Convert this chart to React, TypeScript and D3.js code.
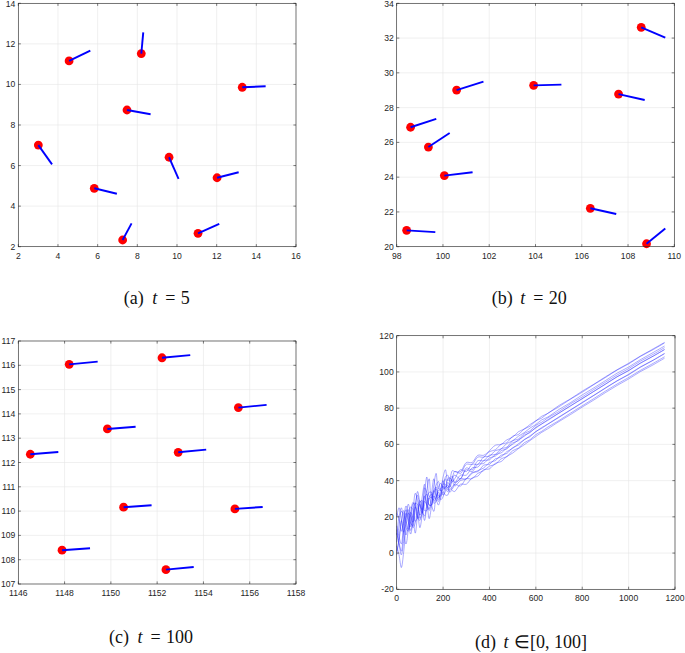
import React from "react";
import * as d3 from "d3";

// ---------- data ----------
const ticksAX = [2, 4, 6, 8, 10, 12, 14, 16];
const ticksAY = [2, 4, 6, 8, 10, 12, 14];
const ticksBX = [98, 100, 102, 104, 106, 108, 110];
const ticksBY = [20, 22, 24, 26, 28, 30, 32, 34];
const ticksCX = [1146, 1148, 1150, 1152, 1154, 1156, 1158];
const ticksCY = [107, 108, 109, 110, 111, 112, 113, 114, 115, 116, 117];
const ticksDX = [0, 200, 400, 600, 800, 1000, 1200];
const ticksDY = [-20, 0, 20, 40, 60, 80, 100, 120];

// t = 5
const posT5X = [4.56, 8.2, 13.29, 7.48, 3.01, 9.6, 12.02, 5.83, 7.26, 11.06];
const posT5Y = [11.16, 11.52, 9.86, 8.74, 7.01, 6.41, 5.4, 4.88, 2.33, 2.66];
const headT5X = [5.63, 8.3, 14.47, 8.67, 3.7, 10.08, 13.11, 6.97, 7.71, 12.13];
const headT5Y = [11.67, 12.57, 9.91, 8.53, 6.06, 5.34, 5.67, 4.61, 3.15, 3.13];

// t = 20
const posT20X = [108.57, 100.59, 103.92, 107.59, 98.6, 99.37, 100.06, 106.37, 98.43, 108.8];
const posT20Y = [32.62, 29.01, 29.28, 28.78, 26.87, 25.73, 24.09, 22.21, 20.94, 20.17];
const headT20X = [109.61, 101.75, 105.12, 108.72, 99.71, 100.29, 101.28, 107.49, 99.67, 109.61];
const headT20Y = [32.03, 29.49, 29.32, 28.44, 27.35, 26.54, 24.28, 21.88, 20.84, 21.05];

// t = 100
const posT100X = [1148.2, 1152.21, 1155.51, 1149.85, 1146.52, 1152.91, 1150.55, 1155.36, 1147.89, 1152.38];
const posT100Y = [116.04, 116.31, 114.26, 113.38, 112.34, 112.42, 110.16, 110.09, 108.39, 107.59];
const headT100X = [1149.43, 1153.43, 1156.73, 1151.07, 1147.73, 1154.12, 1151.76, 1156.56, 1149.1, 1153.58];
const headT100Y = [116.15, 116.42, 114.37, 113.47, 112.43, 112.53, 110.24, 110.17, 108.47, 107.7];

// trajectories t in [0,100]
const trajX = [0, 10, 20, 30, 40, 50, 60, 70, 80, 90, 100, 110, 120, 130, 140, 150, 160, 170, 180, 190, 200, 210, 220, 230, 240, 250, 275, 300, 325, 350, 375, 400, 425, 450, 475, 500, 525, 550, 575, 600, 625, 650, 700, 750, 800, 850, 900, 950, 1000, 1050, 1100, 1155];
const trajA = [20, 25, 19, 11.5, 20, 27, 21.5, 17, 26.5, 32, 26, 24, 33.5, 42, 31.5, 30.5, 37.5, 44, 35.5, 35.5, 42, 46, 40, 41.5, 45.5, 45, 45, 50, 50, 54, 54, 56.5, 59.5, 60, 62.5, 64, 67, 68.5, 71, 73, 75.5, 77, 81.5, 85.2, 89.4, 93.2, 97.3, 101.2, 104.8, 108.7, 112.3, 116.3];
const trajB = [11, 5, -1, 6.5, 19, 24, 16.5, 15, 24.5, 34, 28, 22, 26.5, 34.5, 41, 30.5, 29.5, 37.5, 39.5, 34.5, 35, 42, 43, 39.5, 41.5, 45, 44, 49, 49, 53, 53, 56, 57, 60, 61, 64.5, 65.5, 68.5, 70, 73, 74.5, 77, 80.8, 85, 88.8, 93, 96.9, 101, 104.4, 108.5, 111.9, 116];
const trajC = [4, -1, -8, 0.5, 14, 22, 20.5, 14, 16.5, 25, 29, 25, 18, 26.5, 33.5, 33.5, 28.5, 30.5, 36.5, 38.5, 36, 36, 41, 41.5, 39.5, 41, 46, 45, 49, 49, 53, 53.5, 56.5, 57.5, 60.5, 62, 64.5, 66.5, 69, 71, 73.5, 75, 79.3, 83.1, 87.3, 91.2, 95.2, 99.3, 102.7, 106.7, 110.3, 114.3];
const trajD = [22, 19, 12, 18.5, 26, 22, 14.5, 22, 33, 29, 21, 23, 36, 33.5, 26.5, 26.5, 34.5, 36.5, 31.5, 31.5, 38, 41, 37, 36.5, 41.5, 43, 41, 47, 46, 51, 51, 54, 54.5, 57.5, 58.5, 62, 63, 66, 67.5, 70.5, 72.2, 74.5, 78.2, 82.4, 86.2, 90.3, 94.3, 98.3, 101.8, 105.9, 109.3, 113.4];
const trajE = [6, 15, 23, 21.5, 14, 12, 20.5, 28, 25.5, 19, 22, 31, 38, 26.5, 24.5, 32.5, 41, 32.5, 29.5, 35.5, 40, 36, 35, 40.5, 42.5, 39, 41, 46, 45, 49, 49.5, 52.5, 53.5, 56.5, 57.5, 60.8, 62, 65.1, 66.5, 69.5, 71.2, 73.5, 77.3, 81.4, 85.2, 89.3, 93.3, 97.3, 100.8, 104.9, 108.3, 112.4];
const trajF = [15, 9, 5, 16.5, 24, 19, 12.5, 18, 27.5, 27, 19, 22, 30.5, 32.5, 26.5, 26.5, 33.5, 35.5, 30.5, 32.5, 38, 38, 36, 38.5, 40.5, 39, 43, 43, 47, 47.5, 51, 51.5, 54.3, 55.3, 58.1, 60, 62.5, 64.5, 66.9, 69, 71.3, 73.1, 77.3, 81.2, 85.3, 89.2, 93.2, 97.3, 100.7, 104.7, 108.3, 112.3];
const trajG = [1, 7, 17, 23.5, 18, 13, 17.5, 27, 27.5, 20, 18, 26, 31.5, 27.5, 23.5, 28.5, 34.5, 31.5, 28.5, 32.5, 37, 35, 34, 37.5, 39.5, 37, 40, 41, 44.5, 45, 48.5, 49, 52, 53, 56, 57.8, 60.4, 62.5, 64.8, 67, 69.3, 71.1, 75.2, 79.1, 83.2, 87.1, 91.2, 95.1, 98.7, 102.7, 106.1, 110.2];
const trajH = [10, 20, 25, 16.5, 10, 16, 25.5, 24, 17.5, 20, 28, 29, 23.5, 23.5, 30.5, 32.5, 27.5, 28.5, 34.5, 34.5, 32, 34, 39, 37.5, 35.5, 38, 41, 41, 44, 45.5, 47, 50, 51, 54, 55, 58.2, 59.6, 62.7, 64.2, 67.1, 68.8, 71, 74.9, 79, 82.9, 87, 91, 95, 98.4, 102.5, 106, 110.1];
const trajI = [-1, 8, 18, 10.5, 5, 13, 22.5, 19, 11, 21, 27, 23, 20.5, 26.5, 30.5, 26.5, 23, 31.5, 33.5, 29.5, 31, 37, 36, 33.5, 36.5, 38, 37, 41, 41, 44, 45.5, 48, 49, 52, 53.3, 56.5, 58, 60.9, 62.6, 65.4, 67.2, 69.4, 73.2, 77.3, 81.3, 85.3, 89.4, 93.3, 96.9, 100.8, 104.3, 108.4];
const trajJ = [13, 6, 1, 12.5, 22, 17, 10.5, 17, 25.5, 22, 14, 21, 28.5, 26.5, 19, 25.5, 31.5, 29.5, 26.5, 30.5, 34, 32, 32, 35.5, 34.5, 34, 38, 38, 41.5, 42.5, 46, 46.5, 49.5, 50.5, 53.3, 55.2, 57.7, 59.8, 62.1, 64.4, 66.6, 68.5, 72.6, 76.5, 80.6, 84.5, 88.6, 92.5, 96.1, 100.1, 103.5, 107.6];
const trajectories = [trajA, trajB, trajC, trajD, trajE, trajF, trajG, trajH, trajI, trajJ];

// ---------- drawing ----------
const AXIS = "#262626";
const GRID = "#e6e6e6";
const TICKFONT = "'Liberation Sans', Arial, Helvetica, sans-serif";
const CAPFONT = "'Liberation Serif', 'Times New Roman', serif";

type Box = { l: number; r: number; t: number; b: number };

function Axes({ box, xd, yd, xt, yt, children }: any) {
  const x = d3.scaleLinear().domain(xd).range([box.l, box.r]);
  const y = d3.scaleLinear().domain(yd).range([box.b, box.t]);
  const tl = 2.6;
  return (
    <g>
      <rect x={box.l} y={box.t} width={box.r - box.l} height={box.b - box.t} fill="#fff" />
      {xt.map((v: number) => (
        <line key={"gx" + v} x1={x(v)} x2={x(v)} y1={box.t} y2={box.b} stroke={GRID} strokeWidth={0.6} />
      ))}
      {yt.map((v: number) => (
        <line key={"gy" + v} x1={box.l} x2={box.r} y1={y(v)} y2={y(v)} stroke={GRID} strokeWidth={0.6} />
      ))}
      {children(x, y)}
      <rect x={box.l} y={box.t} width={box.r - box.l} height={box.b - box.t} fill="none" stroke={AXIS} strokeWidth={0.6} />
      {xt.map((v: number) => (
        <g key={"tx" + v}>
          <line x1={x(v)} x2={x(v)} y1={box.b} y2={box.b - tl} stroke={AXIS} strokeWidth={0.6} />
          <line x1={x(v)} x2={x(v)} y1={box.t} y2={box.t + tl} stroke={AXIS} strokeWidth={0.6} />
          <text x={x(v)} y={box.b + 12} fontSize={8.6} fontFamily={TICKFONT} fill={AXIS} textAnchor="middle">
            {String(v)}
          </text>
        </g>
      ))}
      {yt.map((v: number) => (
        <g key={"ty" + v}>
          <line x1={box.l} x2={box.l + tl} y1={y(v)} y2={y(v)} stroke={AXIS} strokeWidth={0.6} />
          <line x1={box.r} x2={box.r - tl} y1={y(v)} y2={y(v)} stroke={AXIS} strokeWidth={0.6} />
          <text x={box.l - 3} y={Math.max(y(v) + 3, 7)} fontSize={8.6} fontFamily={TICKFONT} fill={AXIS} textAnchor="end">
            {String(v)}
          </text>
        </g>
      ))}
    </g>
  );
}

function Agents({ x, y, px, py, hx, hy }: any) {
  return (
    <g>
      {px.map((_: number, i: number) => (
        <circle key={"c" + i} cx={x(px[i])} cy={y(py[i])} r={4.4} fill="#ff0000" />
      ))}
      {px.map((_: number, i: number) => (
        <line key={"l" + i} x1={x(px[i])} y1={y(py[i])} x2={x(hx[i])} y2={y(hy[i])} stroke="#0000ff" strokeWidth={1.9} />
      ))}
    </g>
  );
}

function Caption({ left, base, label, rel, tail, relOff, tailOff }: any) {
  return (
    <text y={base} fontFamily={CAPFONT} fontSize={18} fill="#111">
      <tspan x={left}>{label}</tspan>
      <tspan x={left + 28.5} fontStyle="italic">t</tspan>
      <tspan x={left + relOff}>{rel}</tspan>
      <tspan x={left + tailOff}>{tail}</tspan>
    </text>
  );
}

export default function App() {
  const boxA: Box = { l: 18.3, r: 296, t: 3.3, b: 246.7 };
  const boxB: Box = { l: 396.7, r: 674.3, t: 3.3, b: 246.7 };
  const boxC: Box = { l: 18.3, r: 296, t: 341, b: 584 };
  const boxD: Box = { l: 396.7, r: 675, t: 335.7, b: 589.3 };
  const lineGen = (x: any, y: any) =>
    d3
      .line<number>()
      .x((_, i) => x(trajX[i]))
      .y((d) => y(d))
      .curve(d3.curveCatmullRom.alpha(0.5));
  return (
    <div style={{ position: "absolute", left: 0, top: 0 }}>
      <svg width={685} height={653} style={{ display: "block", background: "#fff" }}>
        <Axes box={boxA} xd={[2, 16]} yd={[2, 14]} xt={ticksAX} yt={ticksAY}>
          {(x: any, y: any) => <Agents x={x} y={y} px={posT5X} py={posT5Y} hx={headT5X} hy={headT5Y} />}
        </Axes>
        <Axes box={boxB} xd={[98, 110]} yd={[20, 34]} xt={ticksBX} yt={ticksBY}>
          {(x: any, y: any) => <Agents x={x} y={y} px={posT20X} py={posT20Y} hx={headT20X} hy={headT20Y} />}
        </Axes>
        <Axes box={boxC} xd={[1146, 1158]} yd={[107, 117]} xt={ticksCX} yt={ticksCY}>
          {(x: any, y: any) => <Agents x={x} y={y} px={posT100X} py={posT100Y} hx={headT100X} hy={headT100Y} />}
        </Axes>
        <Axes box={boxD} xd={[0, 1200]} yd={[-20, 120]} xt={ticksDX} yt={ticksDY}>
          {(x: any, y: any) => (
            <g>
              {trajectories.map((tr, k) => (
                <path key={k} d={lineGen(x, y)(tr) || ""} fill="none" stroke="#1a1aff" strokeOpacity={0.75} strokeWidth={0.5} />
              ))}
            </g>
          )}
        </Axes>
        <Caption left={123.7} base={304} label="(a)" rel="=" tail="5" relOff={41.5} tailOff={57} />
        <Caption left={491.7} base={304} label="(b)" rel="=" tail="20" relOff={41.5} tailOff={57} />
        <Caption left={109} base={643} label="(c)" rel="=" tail="100" relOff={41.5} tailOff={57} />
        <Caption left={475} base={648} label="(d)" rel="∈" tail="[0, 100]" relOff={39.3} tailOff={55} />
      </svg>
    </div>
  );
}
